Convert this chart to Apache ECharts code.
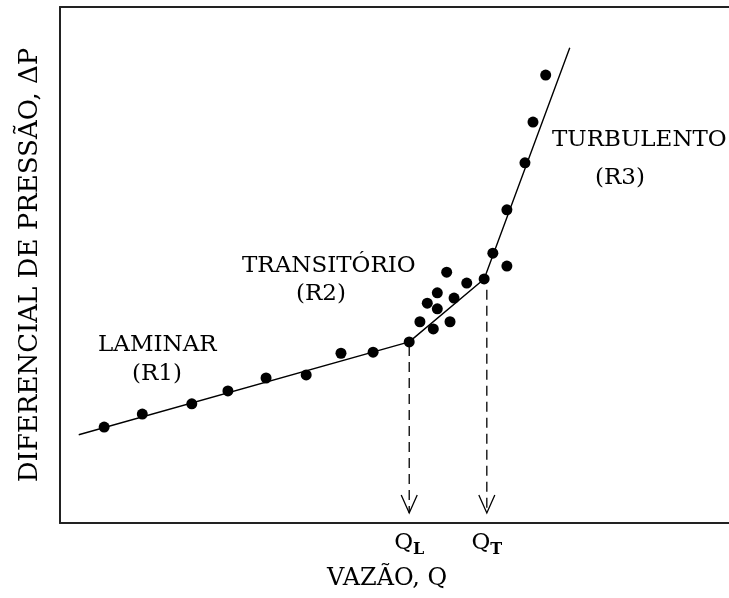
<!DOCTYPE html>
<html>
<head>
<meta charset="utf-8">
<script src="https://cdn.jsdelivr.net/npm/echarts@6/dist/echarts.min.js"></script>
<style>
  html, body { margin: 0; padding: 0; background: #fff; }
  #chart { width: 729px; height: 598px; }
</style>
</head>
<body>
<div id="chart"></div>
<script>
// pontos medidos (vazão, diferencial de pressão) em unidades arbitrárias 0-100
var laminarPts = [[6.6, 18.6], [12.3, 21.1], [19.7, 23.1], [25.1, 25.6], [30.8, 28.1],
                  [36.8, 28.7], [42.0, 32.9], [46.8, 33.1], [52.2, 35.1]];
var transPts = [[53.8, 39.0], [55.8, 37.6], [54.9, 42.6], [56.4, 44.6], [56.4, 41.5],
                [58.3, 39.0], [58.9, 43.6], [57.8, 48.6], [60.8, 46.5], [63.4, 47.3]];
var turbPts = [[64.7, 52.3], [66.8, 49.8], [66.8, 60.7], [69.5, 69.8], [70.7, 77.7], [72.6, 86.8]];
// retas ajustadas (R1, R2, R3)
var fitLine = [[2.8, 17.1], [52.2, 35.1], [63.4, 47.3], [76.2, 92.1]];
// vazões críticas
var qL = 52.2, qT = 63.8;
var dropLines = [[qL, 35.1, 'L'], [qT, 46.0, 'T']];
var xTicks = [qL, qT];
var xTickNames = ['{q|Q}{s|L}', '{q|Q}{s|T}'];

var FONT = 'DejaVu Serif';
var LBL = '23px "DejaVu Serif"';

var myChart = echarts.init(document.getElementById('chart'));

var option = {
    animation: false,
    grid: { left: 60, right: 0, top: 7, bottom: 75 },
    textStyle: { fontFamily: FONT },
    xAxis: [{
        type: 'value', min: 0, max: 100,
        splitLine: { show: false },
        axisTick: { show: false },
        axisLine: { lineStyle: { color: '#222', width: 2 } },
        axisLabel: {
            customValues: xTicks,
            margin: 5,
            color: '#000',
            formatter: function (v) {
                return xTickNames[xTicks.indexOf(v)];
            },
            rich: {
                q: { fontFamily: FONT, fontSize: 23, color: '#000' },
                s: { fontFamily: FONT, fontSize: 16, fontWeight: 'bold', color: '#000', padding: [14, 0, 0, 0] }
            }
        }
    }, {
        type: 'value', min: 0, max: 100, position: 'top',
        splitLine: { show: false }, axisTick: { show: false }, axisLabel: { show: false },
        axisLine: { show: true, lineStyle: { color: '#222', width: 2 } }
    }],
    yAxis: {
        type: 'value', min: 0, max: 100,
        name: 'DIFERENCIAL DE PRESSÃO, ΔP',
        nameLocation: 'middle',
        nameRotate: 90,
        nameGap: 17,
        nameTextStyle: { fontFamily: FONT, fontSize: 26, color: '#000' },
        splitLine: { show: false },
        axisTick: { show: false },
        axisLabel: { show: false },
        axisLine: { show: true, lineStyle: { color: '#222', width: 2 } }
    },
    graphic: [
        { type: 'text', left: 98, top: 334, style: { text: 'LAMINAR', font: LBL, fill: '#000' } },
        { type: 'text', left: 132, top: 363, style: { text: '(R1)', font: LBL, fill: '#000' } },
        { type: 'text', left: 242, top: 255, style: { text: 'TRANSITÓRIO', font: LBL, fill: '#000' } },
        { type: 'text', left: 296, top: 283, style: { text: '(R2)', font: LBL, fill: '#000' } },
        { type: 'text', left: 552, top: 129, style: { text: 'TURBULENTO', font: LBL, fill: '#000' } },
        { type: 'text', left: 595, top: 167, style: { text: '(R3)', font: LBL, fill: '#000' } },
        { type: 'text', left: 327, top: 567, style: { text: 'VAZÃO, Q', font: '24px "DejaVu Serif"', fill: '#000' } }
    ],
    series: [
        {
            type: 'line', data: fitLine, symbol: 'none',
            lineStyle: { color: '#000', width: 1.4 }, z: 2
        },
        {
            type: 'scatter', data: laminarPts.concat(transPts, turbPts),
            symbol: 'circle', symbolSize: 11,
            itemStyle: { color: '#000', opacity: 1 }, z: 3
        },
        {
            type: 'custom',
            data: dropLines,
            renderItem: function (params, api) {
                var top = api.coord([api.value(0), api.value(1)]);
                var bot = api.coord([api.value(0), 0]);
                var x = top[0];
                var tipY = bot[1] - 10;
                return {
                    type: 'group',
                    children: [{
                        type: 'line',
                        shape: { x1: x, y1: top[1] + 4, x2: x, y2: tipY },
                        style: { stroke: '#000', lineWidth: 1.3, lineDash: [10, 6] }
                    }, {
                        type: 'polyline',
                        shape: { points: [[x - 8, tipY - 18], [x, tipY], [x + 8, tipY - 18]] },
                        style: { stroke: '#000', lineWidth: 1.3, fill: null }
                    }]
                };
            },
            z: 1
        }
    ]
};

myChart.setOption(option);
window.addEventListener('resize', function () {
    myChart.resize();
});
</script>
</body>
</html>
